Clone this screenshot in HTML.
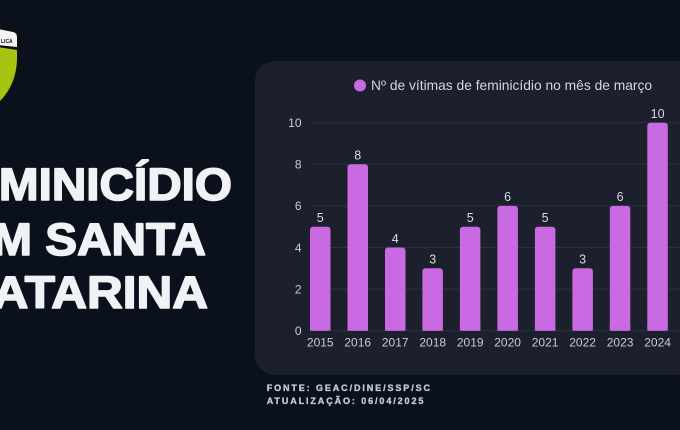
<!DOCTYPE html>
<html><head><meta charset="utf-8"><style>
html,body{margin:0;padding:0;background:#0b111c;}
svg{display:block;}
</style></head><body>
<svg width="680" height="430" viewBox="0 0 680 430" xmlns="http://www.w3.org/2000/svg">
<rect x="0" y="0" width="680" height="430" fill="#0b111c"/>
<!-- shield logo -->
<path d="M-4,27 L14,30 Q19,31 19,36 L19,60 Q18,88 -2,106 L-4,106 Z" fill="#111" />
<path d="M-2,29 L13,32 Q17,33 17,37 L17,47 L-2,45 Z" fill="#f4f4f4"/>
<path d="M-2,47 L17,50 L17,60 Q16,86 -2,103 Z" fill="#a5c512"/>
<text x="1" y="43" font-family="Liberation Sans, sans-serif" font-weight="bold" font-size="5" fill="#111">LICA</text>
<!-- title -->
<g font-family="Liberation Sans, sans-serif" font-weight="bold" font-size="45" fill="#f0f2f6" stroke="#f0f2f6" stroke-width="1.6" stroke-linejoin="round" text-anchor="end">
<text transform="translate(232,200) scale(1.06,1)">FEMINICÍDIO</text>
<text transform="translate(206,255) scale(1.06,1)">EM SANTA</text>
<text transform="translate(208,308) scale(1.1,1)">CATARINA</text>
</g>
<!-- panel -->
<rect x="255" y="61" width="460" height="314" rx="20" fill="#1b202c"/>
<!-- legend -->
<circle cx="360" cy="85.5" r="6" fill="#c96ae2"/>
<text x="371" y="90.2" font-family="Liberation Sans, sans-serif" font-size="13.8" fill="#d3d6dd">Nº de vítimas de feminicídio no mês de março</text>
<!-- grid -->
<g stroke="#2b303d" stroke-width="1">
<line x1="310" x2="680" y1="122.7" y2="122.7"/>
<line x1="310" x2="680" y1="164.3" y2="164.3"/>
<line x1="310" x2="680" y1="205.9" y2="205.9"/>
<line x1="310" x2="680" y1="247.5" y2="247.5"/>
<line x1="310" x2="680" y1="289.1" y2="289.1"/>
<line x1="310" x2="680" y1="330.7" y2="330.7"/>
</g>
<g font-family="Liberation Sans, sans-serif" font-size="12" fill="#c9ccd3" text-anchor="end">
<text x="301.5" y="127">10</text>
<text x="301.5" y="168.6">8</text>
<text x="301.5" y="210.2">6</text>
<text x="301.5" y="251.8">4</text>
<text x="301.5" y="293.4">2</text>
<text x="301.5" y="335">0</text>
</g>
<!-- bars -->
<g fill="#c96ae2">
<rect x="310" y="226.7" width="20.5" height="104" rx="3"/>
<rect x="347.5" y="164.3" width="20.5" height="166.4" rx="3"/>
<rect x="385" y="247.5" width="20.5" height="83.2" rx="3"/>
<rect x="422.4" y="268.3" width="20.5" height="62.4" rx="3"/>
<rect x="459.9" y="226.7" width="20.5" height="104" rx="3"/>
<rect x="497.4" y="205.9" width="20.5" height="124.8" rx="3"/>
<rect x="534.9" y="226.7" width="20.5" height="104" rx="3"/>
<rect x="572.4" y="268.3" width="20.5" height="62.4" rx="3"/>
<rect x="609.8" y="205.9" width="20.5" height="124.8" rx="3"/>
<rect x="647.3" y="122.7" width="20.5" height="208" rx="3"/>
</g>
<g fill="#c96ae2">
<rect x="310" y="325" width="20.5" height="5.7"/>
<rect x="347.5" y="325" width="20.5" height="5.7"/>
<rect x="385" y="325" width="20.5" height="5.7"/>
<rect x="422.4" y="325" width="20.5" height="5.7"/>
<rect x="459.9" y="325" width="20.5" height="5.7"/>
<rect x="497.4" y="325" width="20.5" height="5.7"/>
<rect x="534.9" y="325" width="20.5" height="5.7"/>
<rect x="572.4" y="325" width="20.5" height="5.7"/>
<rect x="609.8" y="325" width="20.5" height="5.7"/>
<rect x="647.3" y="325" width="20.5" height="5.7"/>
</g>
<!-- value labels -->
<g font-family="Liberation Sans, sans-serif" font-size="12.5" fill="#d8dbe2" text-anchor="middle">
<text x="320.25" y="222">5</text>
<text x="357.7" y="159.6">8</text>
<text x="395.2" y="242.8">4</text>
<text x="432.7" y="263.6">3</text>
<text x="470.2" y="222">5</text>
<text x="507.6" y="201.2">6</text>
<text x="545.1" y="222">5</text>
<text x="582.6" y="263.6">3</text>
<text x="620.1" y="201.2">6</text>
<text x="657.6" y="118.2">10</text>
</g>
<!-- year labels -->
<g font-family="Liberation Sans, sans-serif" font-size="12" fill="#c9ccd3" text-anchor="middle">
<text x="320.25" y="346.5">2015</text>
<text x="357.7" y="346.5">2016</text>
<text x="395.2" y="346.5">2017</text>
<text x="432.7" y="346.5">2018</text>
<text x="470.2" y="346.5">2019</text>
<text x="507.6" y="346.5">2020</text>
<text x="545.1" y="346.5">2021</text>
<text x="582.6" y="346.5">2022</text>
<text x="620.1" y="346.5">2023</text>
<text x="657.6" y="346.5">2024</text>
</g>
<!-- footer -->
<g font-family="Liberation Sans, sans-serif" font-weight="bold" font-size="9" fill="#c3c7cf" stroke="#c3c7cf" stroke-width="0.35" letter-spacing="1.9">
<text x="266.7" y="391">FONTE: GEAC/DINE/SSP/SC</text>
<text x="266.7" y="404">ATUALIZAÇÃO: 06/04/2025</text>
</g>
</svg>
</body></html>
